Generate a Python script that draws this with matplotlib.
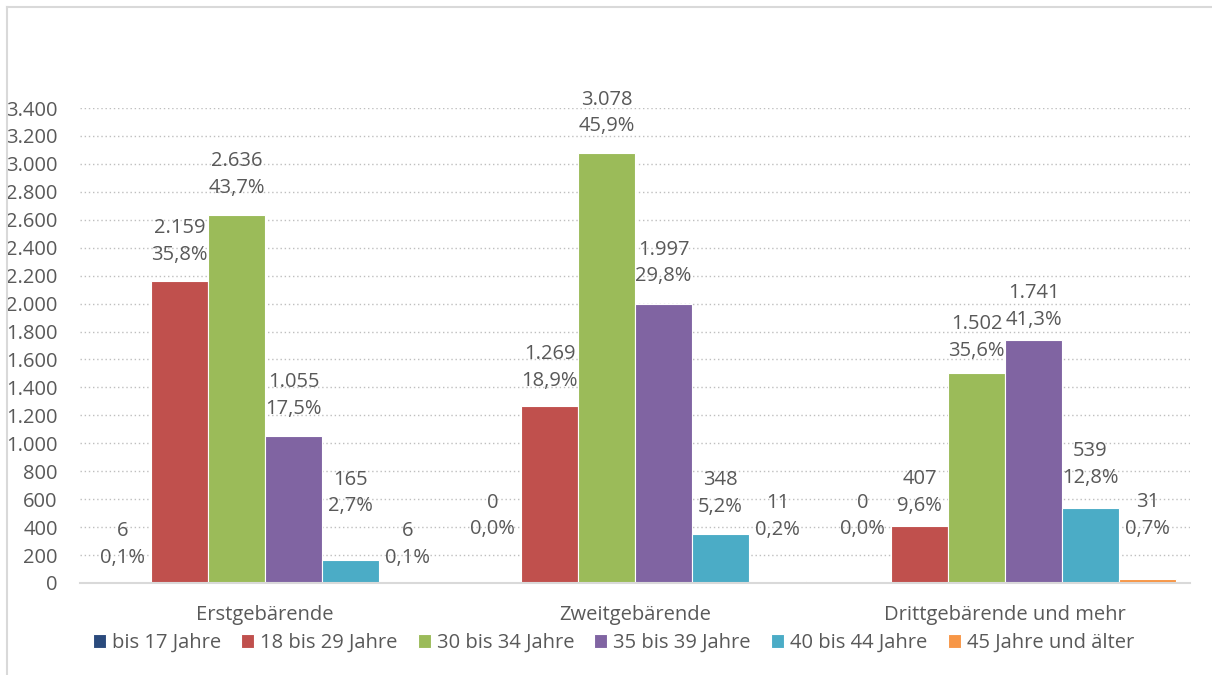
import matplotlib.pyplot as plt
import numpy as np
from matplotlib.lines import Line2D

plt.rcParams['font.family'] = ['Open Sans', 'DejaVu Sans']

CATEGORIES = ["Erstgebärende", "Zweitgebärende", "Drittgebärende und mehr"]
SERIES = ["bis 17 Jahre", "18 bis 29 Jahre", "30 bis 34 Jahre",
          "35 bis 39 Jahre", "40 bis 44 Jahre", "45 Jahre und älter"]

# counts per age group, one list per series (order = CATEGORIES)
BIS_17 = [6, 0, 0]
J18_29 = [2159, 1269, 407]
J30_34 = [2636, 3078, 1502]
J35_39 = [1055, 1997, 1741]
J40_44 = [165, 348, 539]
AB_45 = [6, 11, 31]

# share within the category, in percent
PCT_BIS_17 = [0.1, 0.0, 0.0]
PCT_18_29 = [35.8, 18.9, 9.6]
PCT_30_34 = [43.7, 45.9, 35.6]
PCT_35_39 = [17.5, 29.8, 41.3]
PCT_40_44 = [2.7, 5.2, 12.8]
PCT_AB_45 = [0.1, 0.2, 0.7]

VALUES = [BIS_17, J18_29, J30_34, J35_39, J40_44, AB_45]
PCTS = [PCT_BIS_17, PCT_18_29, PCT_30_34, PCT_35_39, PCT_40_44, PCT_AB_45]

COLORS = ["#2A4A7C", "#C0504D", "#9BBB59", "#8064A2", "#4BACC6", "#F79646"]
TEXT = "#595959"
FS = 14.5

# labels that sit higher to stay clear of neighbours (pixels above bar top)
LIFT = [[38, 67, 67], [40, 38, 34], [40, 40, 36],
        [40, 41, 33], [67, 41, 43], [38, 65, 63]]


def de_num(v):
    return f"{v:,}".replace(",", ".")


def de_pct(p):
    return f"{p:.1f}%".replace(".", ",")


fig = plt.figure(figsize=(12.12, 6.75), dpi=100)
ax = fig.add_axes([80 / 1212, 1 - 583 / 675, 1110 / 1212, 475 / 675])

x = np.arange(len(CATEGORIES))
width = 0.154
for i, (name, vals, pcts) in enumerate(zip(SERIES, VALUES, PCTS)):
    pos = x + (i - 2.5) * width
    ax.bar(pos, vals, width, color=COLORS[i], edgecolor="white",
           linewidth=0.8, label=name, zorder=3)
    for xp, v, p, lift in zip(pos, vals, pcts, LIFT[i]):
        ax.annotate(f"{de_num(v)}\n{de_pct(p)}", (xp, v),
                    xytext=(0, lift), textcoords="offset pixels",
                    ha="center", va="center", fontsize=FS, color=TEXT,
                    linespacing=1.45, annotation_clip=False, zorder=4)

ax.set_xlim(-0.5, 2.5)
ax.set_ylim(0, 3400)
ax.set_yticks(np.arange(0, 3401, 200))
ax.set_yticklabels([de_num(t) for t in range(0, 3401, 200)])
ax.set_xticks(x)
ax.set_xticklabels(CATEGORIES)
ax.tick_params(axis="both", length=0, labelsize=FS, labelcolor=TEXT)
ax.tick_params(axis="y", pad=16)
ax.tick_params(axis="x", pad=16)
ax.yaxis.grid(True, linestyle=(0, (1, 2)), color="#BFBFBF", linewidth=1, zorder=0)
for side in ["top", "right", "left"]:
    ax.spines[side].set_visible(False)
ax.spines["bottom"].set_color("#D9D9D9")
ax.spines["bottom"].set_linewidth(1.5)
ax.spines["bottom"].set_zorder(5)

fig.legend(loc="lower center", bbox_to_anchor=(0.506, 22 / 675), ncol=6,
           frameon=False, fontsize=FS, labelcolor=TEXT, handlelength=0.65,
           handleheight=0.65, handletextpad=0.3, columnspacing=1.0,
           borderpad=0, borderaxespad=0)

# light frame on the left and top edge
fig.add_artist(Line2D([7 / 1212, 7 / 1212], [0, 1 - 7 / 675], color="#D9D9D9", lw=1.5))
fig.add_artist(Line2D([7 / 1212, 1], [1 - 7 / 675, 1 - 7 / 675], color="#D9D9D9", lw=1.5))

fig.savefig("out.png", dpi=100)
